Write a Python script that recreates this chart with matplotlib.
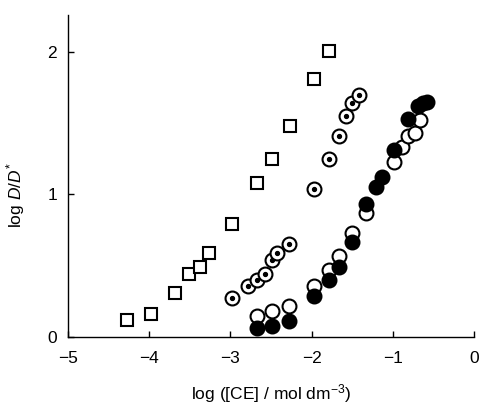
import matplotlib
matplotlib.use("Agg")
import matplotlib.pyplot as plt

# squares
sq_x = [-4.28, -3.98, -3.68, -3.51, -3.37, -3.27, -2.98, -2.67, -2.49, -2.27, -1.97, -1.79]
sq_y = [0.12, 0.16, 0.31, 0.44, 0.49, 0.59, 0.79, 1.08, 1.25, 1.48, 1.81, 2.01]

# dotted circles
dot_x = [-2.98, -2.79, -2.67, -2.57, -2.49, -2.43, -2.28, -1.97, -1.79, -1.67, -1.58, -1.50, -1.42]
dot_y = [0.27, 0.36, 0.40, 0.44, 0.54, 0.59, 0.65, 1.04, 1.25, 1.41, 1.55, 1.64, 1.70]

# open circles
open_x = [-2.67, -2.49, -2.28, -1.97, -1.79, -1.67, -1.51, -1.33, -0.99, -0.89, -0.81, -0.73, -0.67]
open_y = [0.15, 0.18, 0.22, 0.36, 0.47, 0.57, 0.73, 0.87, 1.23, 1.33, 1.41, 1.43, 1.52]

# filled circles
fill_x = [-2.67, -2.49, -2.28, -1.97, -1.79, -1.67, -1.51, -1.33, -1.21, -1.13, -0.99, -0.81, -0.69, -0.63, -0.58]
fill_y = [0.06, 0.08, 0.11, 0.29, 0.40, 0.49, 0.67, 0.93, 1.05, 1.12, 1.31, 1.53, 1.62, 1.64, 1.65]

plt.rcParams["font.family"] = ["Liberation Sans", "DejaVu Sans"]
plt.rcParams["mathtext.fontset"] = "custom"
plt.rcParams["mathtext.rm"] = "Liberation Sans"
plt.rcParams["mathtext.it"] = "Liberation Sans:italic"

fig = plt.figure(figsize=(4.79, 4.05), dpi=100)
ax = fig.add_axes([0.142, 0.168, 0.848, 0.795])

ax.plot(sq_x, sq_y, "s", ms=8.5, mfc="white", mec="black", mew=1.5, ls="none")
for x, y in zip(dot_x, dot_y):
    ax.plot(x, y, "o", ms=10, mfc="white", mec="black", mew=1.5)
    ax.plot(x, y, "o", ms=2.8, mfc="black", mec="black")
ax.plot(open_x, open_y, "o", ms=10, mfc="white", mec="black", mew=1.5, ls="none")
ax.plot(fill_x, fill_y, "o", ms=10, mfc="black", mec="black", mew=1.5, ls="none")

ax.set_xlim(-5, 0)
ax.set_ylim(0, 2.26)
ax.set_xticks([-5, -4, -3, -2, -1, 0])
ax.set_xticklabels(["\u22125", "\u22124", "\u22123", "\u22122", "\u22121", "0"])
ax.set_yticks([0, 1, 2])
ax.tick_params(direction="in", length=4, width=1, labelsize=12.5)
ax.tick_params(axis="x", pad=10)
ax.tick_params(axis="y", pad=8)
for s in ["top", "right"]:
    ax.spines[s].set_visible(False)
for s in ["left", "bottom"]:
    ax.spines[s].set_linewidth(1)

ax.set_xlabel(r"log ([CE] / mol dm$^{-3}$)", fontsize=12.5, labelpad=12)
ax.set_ylabel(r"log $D/D^{*}$", fontsize=12.5)
ax.yaxis.set_label_coords(-0.101, 0.44)

fig.savefig("out.png", dpi=100)
